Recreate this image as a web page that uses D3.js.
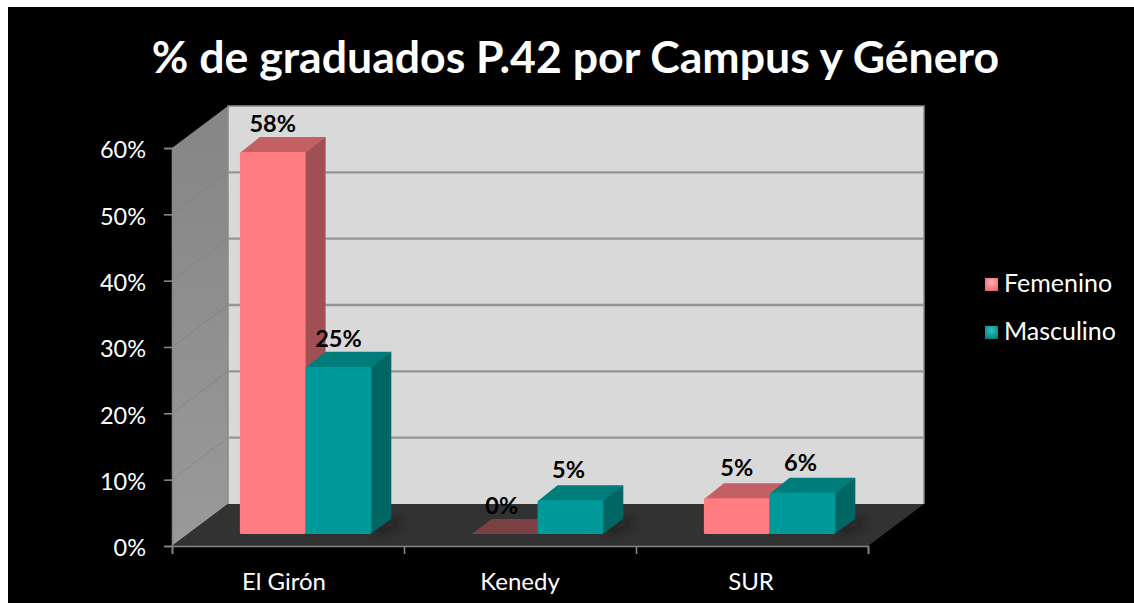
<!DOCTYPE html>
<html><head><meta charset="utf-8">
<script src="https://cdn.jsdelivr.net/npm/d3@7"></script>
<style>html,body{margin:0;padding:0;background:#fff;overflow:hidden}svg{display:block}text{font-family:Lato,Carlito,sans-serif}</style>
</head><body><div id="chart"></div>
<script>
const titleText = "% de graduados P.42 por Campus y Género";
const campuses = ["El Girón", "Kenedy", "SUR"];
const seriesNames = ["Femenino", "Masculino"];
const femenino = [57.6, 0, 5.4];
const masculino = [25.2, 5.1, 6.2];
const femeninoLabels = ["58%", "0%", "5%"];
const masculinoLabels = ["25%", "5%", "6%"];
const yTicks = [0, 10, 20, 30, 40, 50, 60];
const campusLabelNudge = [-4, 0, -1];

const W = 1134, H = 603;
const svg = d3.select("#chart").append("svg").attr("width", W).attr("height", H);
const defs = svg.append("defs");
defs.append("filter").attr("id", "soft").append("feGaussianBlur").attr("stdDeviation", 0.7);
defs.append("filter").attr("id", "shadow").attr("x", "-50%").attr("y", "-50%").attr("width", "200%").attr("height", "200%")
  .append("feGaussianBlur").attr("stdDeviation", 6);

const colors = {
  Femenino: {front: "#ff7c80", side: "#a05054", top: "#c26064", flat: "#7a4042"},
  Masculino: {front: "#009999", side: "#006664", top: "#007b7a", flat: "#007b7a"}
};
[["Femenino", "#ffb0b2", "#f0666c"], ["Masculino", "#30c4c4", "#007f80"]].forEach(([n, a, b]) => {
  const g = defs.append("radialGradient").attr("id", "lg" + n).attr("cx", "50%").attr("cy", "35%").attr("r", "70%");
  g.append("stop").attr("offset", "0%").attr("stop-color", a);
  g.append("stop").attr("offset", "100%").attr("stop-color", b);
});
const wallGrad = defs.append("linearGradient").attr("id", "sideWall").attr("x1", 0).attr("y1", 0).attr("x2", 0).attr("y2", 1);
wallGrad.append("stop").attr("offset", "0%").attr("stop-color", "#858585");
wallGrad.append("stop").attr("offset", "100%").attr("stop-color", "#9a9a9a");

svg.append("rect").attr("x", 8).attr("y", 7).attr("width", W - 8).attr("height", H - 7).attr("fill", "#000");

svg.append("text").text(titleText).attr("x", 575.5).attr("y", 73).attr("text-anchor", "middle")
  .attr("font-size", 44.6).attr("font-weight", 700).attr("fill", "#fff");

// plot geometry
const x0 = 172, x1 = 868, yBase = 546, yTop = 148;
const depthX = 56, depthY = 42;
const y = d3.scaleLinear().domain([0, 60]).range([yBase, yTop]);
const xBand = d3.scaleBand().domain(campuses).range([x0, x1]);
const xEdge = d3.scaleLinear().domain([0, 3]).range([x0, x1]);
const poly = pts => pts.map(p => p.join(",")).join(" ");

const walls = svg.append("g").attr("filter", "url(#soft)");
walls.append("polygon").attr("fill", "url(#sideWall)")
  .attr("points", poly([[x0, y(60)], [x0 + depthX, y(60) - depthY], [x0 + depthX, y(0) - depthY], [x0, y(0)]]));
walls.append("polygon").attr("fill", "#d9d9d9")
  .attr("points", poly([[x0 + depthX, y(60) - depthY], [x1 + depthX, y(60) - depthY], [x1 + depthX, y(0) - depthY], [x0 + depthX, y(0) - depthY]]));
walls.append("polygon").attr("fill", "#333333")
  .attr("points", poly([[x0, y(0)], [x0 + depthX, y(0) - depthY], [x1 + depthX, y(0) - depthY], [x1, y(0)]]));
walls.append("path").attr("fill", "none").attr("stroke", "#8a8a8a").attr("stroke-width", 1.5)
  .attr("d", `M${x0 + depthX},${y(0) - depthY}V${y(60) - depthY}H${x1 + depthX}V${y(0) - depthY}`);

const gridTicks = yTicks.filter(t => t > 0 && t < 60);
walls.selectAll(".gridBack").data(gridTicks).join("line").attr("stroke", "#959595").attr("stroke-width", 2.4)
  .attr("x1", x0 + depthX).attr("x2", x1 + depthX).attr("y1", d => y(d) - depthY).attr("y2", d => y(d) - depthY);
walls.selectAll(".gridSide").data(gridTicks).join("line").attr("stroke", "#7c7c7c").attr("stroke-width", 1).attr("opacity", 0.55)
  .attr("x1", x0).attr("x2", x0 + depthX).attr("y1", d => y(d)).attr("y2", d => y(d) - depthY);

// bars
const barDepthX = 20, barDepthY = 15, barLift = 12, barShift = 17.6, barW = 65.7;
const barData = campuses.flatMap((c, i) => [
  {c, s: "Femenino", v: femenino[i], label: femeninoLabels[i], k: 0},
  {c, s: "Masculino", v: masculino[i], label: masculinoLabels[i], k: 1}
]);
const bx = d => xBand(d.c) + xBand.bandwidth() / 2 + barShift + (d.k - 1) * barW;
const by = v => y(v) - barLift;

const shadows = svg.append("g").attr("filter", "url(#shadow)");
shadows.selectAll("polygon").data(barData.filter(d => d.v > 0 && d.k === 1)).join("polygon").attr("fill", "#111").attr("opacity", 0.6)
  .attr("points", d => poly([[bx(d) + barW, by(0)], [bx(d) + barW + barDepthX, by(0) - barDepthY], [bx(d) + barW + barDepthX + 14, by(0) - barDepthY], [bx(d) + barW + 10, by(0)]]));

const bars = svg.append("g").attr("filter", "url(#soft)");
barData.filter(d => d.k === 0).concat(barData.filter(d => d.k === 1)).forEach(d => {
  const g = bars.append("g"), c = colors[d.s], l = bx(d), t = by(d.v), b = by(0), r = l + barW;
  if (d.v === 0) {
    g.append("polygon").attr("fill", c.flat)
      .attr("points", poly([[l, b], [l + barDepthX, b - barDepthY], [r + barDepthX, b - barDepthY], [r, b]]));
    return;
  }
  g.append("polygon").attr("fill", c.side)
    .attr("points", poly([[r - 1, t], [r + barDepthX, t - barDepthY], [r + barDepthX, b - barDepthY], [r - 1, b]]));
  g.append("polygon").attr("fill", c.top)
    .attr("points", poly([[l, t + 1], [l + barDepthX, t - barDepthY], [r + barDepthX, t - barDepthY], [r, t + 1]]));
  g.append("rect").attr("fill", c.front).attr("x", l).attr("y", t).attr("width", barW).attr("height", b - t).attr("rx", 1.5);
});

svg.append("g").selectAll("text").data(barData).join("text").text(d => d.label)
  .attr("x", d => bx(d) + barW / 2 + (d.v === 0 ? -3 : 0) + (d.k === 1 && d.v < 10 ? -2 : 0))
  .attr("y", d => by(d.v) - (d.v > 0 && d.v < 10 ? 22 : 20)).attr("text-anchor", "middle")
  .attr("font-size", 23.5).attr("font-weight", 700).attr("fill", "#000");

// axes
const axisColor = "#868686";
const yAxis = svg.append("g").attr("transform", `translate(${x0},0)`)
  .call(d3.axisLeft(y).tickValues(yTicks).tickFormat(d => d + "%").tickSize(8).tickPadding(18));
yAxis.selectAll("path,line").attr("stroke", axisColor).attr("stroke-width", 1.6);
yAxis.selectAll("text").attr("fill", "#fff").attr("font-size", 23.5).attr("dy", "0.42em").style("font-family", "Lato,Carlito,sans-serif");

const xTicksAxis = svg.append("g").attr("transform", `translate(0,${yBase})`)
  .call(d3.axisBottom(xEdge).tickValues([0, 1, 2, 3]).tickFormat("").tickSize(8));
xTicksAxis.selectAll("path,line").attr("stroke", axisColor).attr("stroke-width", 1.6);

const xLabels = svg.append("g").attr("transform", `translate(0,${yBase})`)
  .call(d3.axisBottom(xBand).tickSize(0).tickPadding(27));
xLabels.select("path").remove();
xLabels.selectAll("text").attr("fill", "#fff").attr("font-size", 24).style("font-family", "Lato,Carlito,sans-serif")
  .attr("dx", (d, i) => campusLabelNudge[i]);

// legend
const legendY = d3.scalePoint().domain(seriesNames).range([284, 332]);
const legend = svg.append("g").selectAll("g").data(seriesNames).join("g")
  .attr("transform", d => `translate(985,${legendY(d)})`);
legend.append("rect").attr("x", 0).attr("y", -6).attr("width", 13).attr("height", 13)
  .attr("fill", d => `url(#lg${d})`);
legend.append("text").text(d => d).attr("x", 19).attr("y", 8).attr("font-size", 25).attr("fill", "#fff");
</script></body></html>
